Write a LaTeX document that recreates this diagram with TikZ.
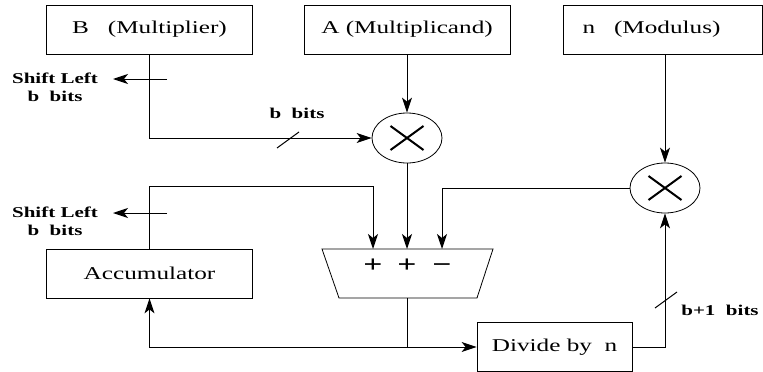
\documentclass[tikz,border=0pt]{standalone}
\usepackage{fontspec}
\setmainfont{Liberation Serif}[FakeStretch=1.4]
\usetikzlibrary{arrows.meta,shapes.geometric}
\tikzset{>={Stealth[length=15pt,width=10pt,inset=4pt]}}
\tikzset{
  unit/.style={draw,line width=0.8pt,minimum width=206pt,minimum height=49pt,inner sep=0pt,font=\fontsize{18}{20}\selectfont},
  mult/.style={draw,ellipse,line width=0.8pt,minimum width=70pt,minimum height=50pt,inner sep=0pt},
  note/.style={font=\bfseries\fontsize{15}{18}\selectfont,align=center},
  sign/.style={font=\bfseries\fontsize{24}{24}\selectfont,inner sep=0pt,anchor=base},
  wire/.style={line width=1pt}
}

\begin{document}
\begin{tikzpicture}[x=1pt,y=-1pt]
			\useasboundingbox (0,0) rectangle (763,372);
			% inputs
			\node[unit] (mplier) at (149.5,29.5) {B\ \ \ (Multiplier)};
			\node[unit] (mcand) at (407,29.5) {A (Multiplicand)};
			\node[unit,minimum width=199pt] (modulus) at (662.5,29.5) {n\ \ \ (Modulus)\hspace*{22pt}};
			\node[unit] (acc) at (149.5,273.5) {Accumulator};
			\node[unit,minimum width=155pt] (divn) at (554.5,347) {Divide by\ \ n};
			% multipliers
			\node[mult] (m1) at (407,138) {};
			\node[mult] (m2) at (665,188) {};
			\foreach \m in {m1,m2}
			\draw[line width=2pt] (\m.center) ++(-16.5,-12) -- ++(33,24) ++(0,-24) -- ++(-33,24);
			% adder
			\draw[line width=0.8pt] (322,249) -- (493,249) -- (477,298) -- (339,298) -- cycle;
			\coordinate (addA) at (373,249);
			\coordinate (addB) at (407,249);
			\coordinate (addC) at (442,249);
			\coordinate (addOut) at (407,298);
			\node[sign] at (373,272) {+};
			\node[sign] at (407,272) {+};
			\node[sign] at (442,272) {−};
			% shift left
			\node[note] (shlB) at (55,87) {Shift Left\\b\ \ bits};
			\node[note] (shlAcc) at (55,221) {Shift Left\\b\ \ bits};
			\coordinate (shB) at (167,79);
			\coordinate (shBtip) at (113,79);
			\coordinate (shAcc) at (167,213);
			\coordinate (shAcctip) at (113,213);
			\draw[wire,->] (shB) -- (shBtip);
			\draw[wire,->] (shAcc) -- (shAcctip);
			% wires
			\draw[wire,->] (mcand.south) -- (m1.north);
			\draw[wire,->] (m2.north |- modulus.south) -- (m2.north);
			\draw[wire,->] (mplier.south) |- (m1.west);
			\draw[wire,->] (acc.north) -- ++(0,-62) -| (addA);
			\draw[wire,->] (m1.south) -- (addB);
			\draw[wire,->] (m2.west) -| (addC);
			\draw[wire,->] (addOut) |- (divn.west);
			\draw[wire,->] (addOut |- divn.west) -| (acc.south);
			\draw[wire,->] (divn.east) -| (m2.south);
			% bus widths
			\draw[wire] (288,140) ++(-11,8) -- ++(22,-16);
			\node[note] at (297,113) {b\ \ bits};
			\draw[wire] (666,300) ++(-11,8) -- ++(22,-16);
			\node[note] at (720,310) {b+1\ \ bits};
		\end{tikzpicture}
\end{document}
